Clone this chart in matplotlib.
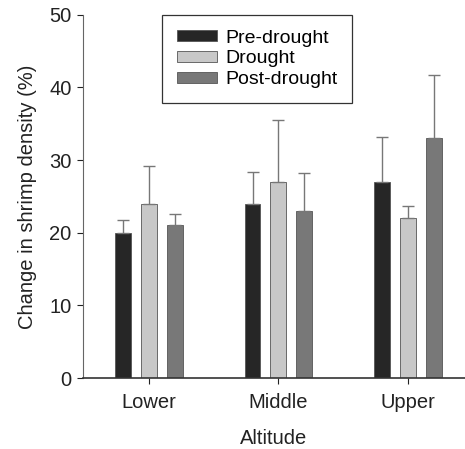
import matplotlib.pyplot as plt
import numpy as np

plt.rcParams['font.family'] = ['Liberation Sans', 'DejaVu Sans']

altitudes = ['Lower', 'Middle', 'Upper']
periods = ['Pre-drought', 'Drought', 'Post-drought']
means = {
    'Pre-drought': [20, 24, 27],
    'Drought': [24, 27, 22],
    'Post-drought': [21, 23, 33],
}
errors = {
    'Pre-drought': [1.8, 4.3, 6.2],
    'Drought': [5.2, 8.5, 1.7],
    'Post-drought': [1.6, 5.2, 8.7],
}
colors = ['#262626', '#c8c8c8', '#787878']

fig = plt.figure(figsize=(4.65, 4.49), dpi=100)
ax = fig.add_axes([0.178, 0.158, 0.822, 0.809])

x = np.arange(len(altitudes))
width = 0.123
offsets = [-0.2, 0.0, 0.2]
for p, c, off in zip(periods, colors, offsets):
    ax.bar(x + off, means[p], width, color=c, edgecolor='#555555', linewidth=0.6,
           label=p, zorder=2,
           yerr=[np.zeros(3), errors[p]],
           error_kw=dict(ecolor='#777777', elinewidth=1.0, capsize=4, capthick=1.0))

ax.set_xlim(-0.51, 2.44)
ax.set_ylim(0, 50)
ax.set_yticks([0, 10, 20, 30, 40, 50])
ax.set_xticks(x)
ax.set_xticklabels(altitudes)
ax.tick_params(labelsize=14.5, colors='#222222', length=4, width=0.8)
ax.tick_params(axis='x', pad=7)
ax.tick_params(axis='y', pad=4)
for s in ['top', 'right']:
    ax.spines[s].set_visible(False)
ax.spines['left'].set_color('#666666')
ax.spines['bottom'].set_color('#333333')
ax.spines['bottom'].set_linewidth(1.2)

ax.set_xlabel('Altitude', fontsize=14.5, labelpad=12, color='#222222')
ax.set_ylabel('Change in shrimp density (%)', fontsize=14.5, labelpad=9, color='#222222')

leg = ax.legend(loc='upper left', bbox_to_anchor=(162 / 465, 1 - 15 / 449),
                bbox_transform=fig.transFigure, fontsize=14, frameon=True,
                fancybox=False, edgecolor='black', borderaxespad=0,
                handlelength=2.1, handleheight=0.5, handletextpad=0.4,
                labelspacing=0.2, borderpad=0.75)
leg.get_frame().set_linewidth(0.9)

fig.savefig('out.png', dpi=100)
